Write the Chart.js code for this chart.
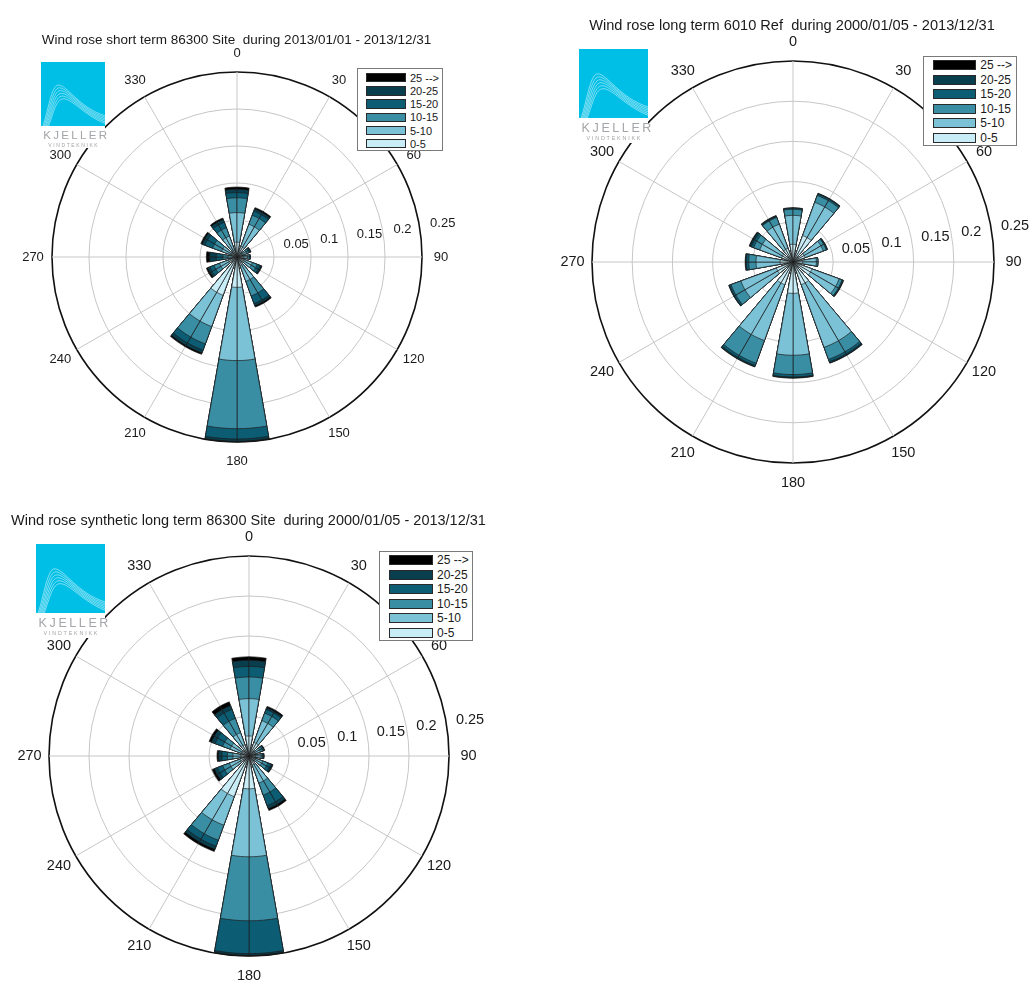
<!DOCTYPE html>
<html>
<head>
<meta charset="utf-8">
<title>Wind roses 86300 Site / 6010 Ref</title>
<script src="https://cdn.jsdelivr.net/npm/chart.js@4.4.1/dist/chart.umd.min.js"></script>
<style>
  html, body { margin: 0; padding: 0; background: #fff; }
  #page { position: relative; width: 1033px; height: 990px; overflow: hidden;
          font-family: "Liberation Sans", Arial, sans-serif; color: #1a1a1a; }
  #page canvas { position: absolute; }
  .rose-title { position: absolute; white-space: pre; transform: translate(-50%, -50%); line-height: 1; }
  .logo { position: absolute; background: #fff; }
  .logo svg { display: block; }
  .logo .brand { text-align: center; color: #a2a5a9; line-height: 1; white-space: nowrap; }
  .legend { position: absolute; background: #fff; border: 1px solid #7a7a7a; box-sizing: border-box; }
  .legend .sw { position: absolute; border: 1px solid #2a2a2a; box-sizing: border-box; }
  .legend .tx { position: absolute; line-height: 1; transform: translateY(-50%); white-space: pre; }
</style>
</head>
<body>
<div id="page"></div>
<script>
// Direction sectors (degrees from north) and their labels
const directions = [0, 30, 60, 90, 120, 150, 180, 210, 240, 270, 300, 330];
const directionLabels = ['0', '30', '60', '90', '120', '150', '180', '210', '240', '270', '300', '330'];
// Wind speed classes (m/s)
const speedBins = ['0-5', '5-10', '10-15', '15-20', '20-25', '25 -->'];
// Radial frequency ticks
const radialTicks = [0.05, 0.1, 0.15, 0.2, 0.25];

// Short term 86300 Site, 2013/01/01 - 2013/12/31 : frequency per sector and speed class
const shortTerm_0_5   = [0.020, 0.015, 0.007, 0.008, 0.010, 0.012, 0.041, 0.055, 0.012, 0.006, 0.008, 0.010];
const shortTerm_5_10  = [0.040, 0.032, 0.007, 0.006, 0.012, 0.023, 0.099, 0.045, 0.013, 0.006, 0.014, 0.020];
const shortTerm_10_15 = [0.020, 0.013, 0.003, 0.003, 0.007, 0.021, 0.092, 0.025, 0.008, 0.007, 0.013, 0.012];
const shortTerm_15_20 = [0.007, 0.006, 0.002, 0.001, 0.004, 0.011, 0.014, 0.009, 0.006, 0.009, 0.011, 0.008];
const shortTerm_20_25 = [0.0045, 0.003, 0.001, 0.000, 0.002, 0.003, 0.003, 0.004, 0.003, 0.009, 0.004, 0.004];
const shortTerm_25up  = [0.003, 0.002, 0.000, 0.000, 0.001, 0.002, 0.001, 0.002, 0.002, 0.0044, 0.002, 0.002];

// Long term 6010 Ref, 2000/01/05 - 2013/12/31
const refLong_0_5   = [0.022, 0.035, 0.016, 0.012, 0.025, 0.030, 0.039, 0.030, 0.022, 0.016, 0.015, 0.018];
const refLong_5_10  = [0.036, 0.044, 0.024, 0.017, 0.036, 0.083, 0.077, 0.074, 0.047, 0.030, 0.029, 0.032];
const refLong_10_15 = [0.0075, 0.009, 0.004, 0.002, 0.004, 0.016, 0.024, 0.030, 0.013, 0.009, 0.008, 0.009];
const refLong_15_20 = [0.0013, 0.002, 0.001, 0.000, 0.001, 0.003, 0.003, 0.003, 0.002, 0.003, 0.003, 0.001];
const refLong_20_25 = [0.0004, 0.0005, 0.0005, 0.000, 0.0005, 0.0015, 0.001, 0.0015, 0.001, 0.001, 0.002, 0.001];
const refLong_25up  = [0.0003, 0.0005, 0.0003, 0.000, 0.0005, 0.0005, 0.0005, 0.0005, 0.000, 0.0005, 0.001, 0.0005];

// Synthetic long term 86300 Site, 2000/01/05 - 2013/12/31
const synLong_0_5   = [0.025, 0.018, 0.008, 0.008, 0.008, 0.012, 0.041, 0.054, 0.012, 0.010, 0.010, 0.015];
const synLong_5_10  = [0.0467, 0.029, 0.007, 0.007, 0.010, 0.024, 0.085, 0.038, 0.014, 0.010, 0.015, 0.016];
const synLong_10_15 = [0.0271, 0.010, 0.003, 0.002, 0.007, 0.016, 0.080, 0.020, 0.009, 0.007, 0.010, 0.019];
const synLong_15_20 = [0.0132, 0.005, 0.002, 0.001, 0.004, 0.014, 0.041, 0.008, 0.007, 0.007, 0.010, 0.012];
const synLong_20_25 = [0.0076, 0.002, 0.0005, 0.0005, 0.002, 0.004, 0.002, 0.004, 0.004, 0.004, 0.005, 0.005];
const synLong_25up  = [0.0044, 0.002, 0.0005, 0.0005, 0.001, 0.0025, 0.001, 0.003, 0.003, 0.002, 0.003, 0.005];

// Fill colour for each speed class
const binColors = ['#c9edf7', '#7cc2d7', '#3a8ea4', '#0c5d74', '#083e4e', '#000000'];

// Each 30 degree sector is split into 10 degree slots: two filled halves and one empty gap.
const slotLabels = [];
directions.forEach(d => slotLabels.push(String(d - 10), String(d), String(d + 10)));

function toSlots(values) {
  const out = [];
  values.forEach(v => out.push(v, v, 0));
  return out;
}

// Cumulative (stacked) rings; the first dataset is painted last, i.e. on top.
function buildDatasets(bins) {
  let acc = directions.map(() => 0);
  return bins.map((bin, i) => {
    acc = acc.map((a, k) => a + bin[k]);
    return {
      label: speedBins[i],
      data: toSlots(acc),
      backgroundColor: binColors[i],
      borderColor: '#1c1c1c',
      borderWidth: 0.7
    };
  });
}

// Direction labels around the rim and frequency labels along a fixed bearing
const roseText = {
  id: 'roseText',
  afterDatasetsDraw(chart, args, opts) {
    const s = chart.scales.r;
    const ctx = chart.ctx;
    ctx.save();
    ctx.fillStyle = '#1a1a1a';
    ctx.font = opts.size + 'px "Liberation Sans", Arial, sans-serif';
    ctx.textAlign = 'center';
    ctx.textBaseline = 'middle';
    directionLabels.forEach((lab, k) => {
      const p = s.getPointPosition(3 * k + 1, s.drawingArea + opts.labelGap);
      ctx.fillText(lab, p.x, p.y);
    });
    ctx.textAlign = 'left';
    const a = opts.tickBearing * Math.PI / 180;
    radialTicks.forEach(v => {
      const d = s.getDistanceFromCenterForValue(v) + opts.tickGap;
      ctx.fillText(String(v), s.xCenter + d * Math.sin(a), s.yCenter - d * Math.cos(a) - opts.tickLift);
    });
    ctx.restore();
  }
};

const roses = [
  {
    title: 'Wind rose short term 86300 Site  during 2013/01/01 - 2013/12/31',
    bins: [shortTerm_0_5, shortTerm_5_10, shortTerm_10_15, shortTerm_15_20, shortTerm_20_25, shortTerm_25up],
    box: { left: 0, top: 30, width: 480, height: 450 }, cx: 237, cy: 257, r: 185,
    text: { size: 13, labelGap: 19, tickBearing: 82, tickGap: 10, tickLift: 6 },
    titlePos: { x: 236.5, y: 39.5, size: 13.5 },
    logo: { x: 41, y: 62, size: 64, h: 86, brand: 11.5, ls: 2.3, sub: 5, subLs: 1.6 },
    legend: { x: 357, y: 68, w: 86, h: 83, swX: 8, swW: 40, swH: 9.5, row0: 8.7, pitch: 13.2, txX: 52, font: 11 }
  },
  {
    title: 'Wind rose long term 6010 Ref  during 2000/01/05 - 2013/12/31',
    bins: [refLong_0_5, refLong_5_10, refLong_10_15, refLong_15_20, refLong_20_25, refLong_25up],
    box: { left: 545, top: 30, width: 488, height: 470 }, cx: 793, cy: 262, r: 201,
    text: { size: 14.5, labelGap: 19.5, tickBearing: 82, tickGap: 9, tickLift: 6.5 },
    titlePos: { x: 792, y: 25, size: 14.6 },
    logo: { x: 579, y: 49, size: 69, h: 94, brand: 12.5, ls: 2.6, sub: 5.4, subLs: 1.8 },
    legend: { x: 923, y: 56, w: 94, h: 90, swX: 8.7, swW: 43.5, swH: 10, row0: 8.3, pitch: 14.5, txX: 56.3, font: 12 }
  },
  {
    title: 'Wind rose synthetic long term 86300 Site  during 2000/01/05 - 2013/12/31',
    bins: [synLong_0_5, synLong_5_10, synLong_10_15, synLong_15_20, synLong_20_25, synLong_25up],
    box: { left: 0, top: 525, width: 500, height: 465 }, cx: 249, cy: 756, r: 200,
    text: { size: 14.5, labelGap: 19.5, tickBearing: 82, tickGap: 9, tickLift: 6.5 },
    titlePos: { x: 248.5, y: 520, size: 14.5 },
    logo: { x: 36, y: 544, size: 69, h: 94, brand: 12.5, ls: 2.6, sub: 5.4, subLs: 1.8 },
    legend: { x: 379, y: 551, w: 94, h: 90, swX: 8.7, swW: 44, swH: 10, row0: 8.3, pitch: 14.5, txX: 57, font: 12 }
  }
];

function logoSvg(size) {
  let paths = '';
  for (let j = 0; j < 6; j++) {
    const py = 36 + j * 4.3, px = 27 + j * 1.6, ey = 84 + j * 2.4, sx = 3 + j * 1.8;
    paths += `<path d="M${sx} 100 C${sx + 8} 78 ${px - 11} ${py} ${px} ${py} C${px + 14} ${py} ${px + 32} ${ey - 13} 100 ${ey}"/>`;
  }
  return `<svg width="${size}" height="${size}" viewBox="0 0 100 100">` +
    `<rect width="100" height="100" fill="#00bfe6"/>` +
    `<g fill="none" stroke="#ffffff" stroke-width="0.9" opacity="0.8">${paths}</g></svg>`;
}

const page = document.getElementById('page');

roses.forEach(rose => {
  const b = rose.box;
  const canvas = document.createElement('canvas');
  canvas.width = b.width;
  canvas.height = b.height;
  canvas.style.left = b.left + 'px';
  canvas.style.top = b.top + 'px';
  page.appendChild(canvas);

  const padding = {
    left: rose.cx - rose.r - b.left,
    top: rose.cy - rose.r - b.top,
    right: b.left + b.width - (rose.cx + rose.r),
    bottom: b.top + b.height - (rose.cy + rose.r)
  };

  new Chart(canvas, {
    type: 'polarArea',
    data: { labels: slotLabels, datasets: buildDatasets(rose.bins) },
    options: {
      responsive: false,
      animation: false,
      events: [],
      layout: { padding },
      plugins: { legend: { display: false }, tooltip: { enabled: false }, roseText: rose.text },
      scales: {
        r: {
          min: 0,
          max: 0.25,
          startAngle: -10,
          ticks: { display: false, stepSize: 0.05 },
          grid: {
            circular: true,
            color: c => (c.tick && c.tick.value > 0.2499) ? '#111111' : '#c6c6c6',
            lineWidth: c => (c.tick && c.tick.value > 0.2499) ? 1.6 : 1
          },
          angleLines: {
            display: true,
            color: c => (c.index % 3 === 1) ? '#c6c6c6' : 'rgba(0,0,0,0)',
            lineWidth: c => (c.index % 3 === 1) ? 1 : 0
          },
          pointLabels: { display: false }
        }
      }
    },
    plugins: [roseText]
  });

  // Title
  const t = document.createElement('div');
  t.className = 'rose-title';
  t.textContent = rose.title;
  t.style.left = rose.titlePos.x + 'px';
  t.style.top = rose.titlePos.y + 'px';
  t.style.fontSize = rose.titlePos.size + 'px';
  page.appendChild(t);

  // Company logo
  const L = rose.logo;
  const logo = document.createElement('div');
  logo.className = 'logo';
  logo.style.left = L.x + 'px';
  logo.style.top = L.y + 'px';
  logo.style.width = L.size + 'px';
  logo.style.height = L.h + 'px';
  logo.innerHTML = logoSvg(L.size) +
    `<div class="brand" style="font-size:${L.brand}px;letter-spacing:${L.ls}px;padding-left:${L.ls}px;margin-top:4px">KJELLER</div>` +
    `<div class="brand" style="font-size:${L.sub}px;letter-spacing:${L.subLs}px;padding-left:${L.subLs}px;margin-top:1px">VINDTEKNIKK</div>`;
  page.appendChild(logo);

  // Speed class legend, strongest class on top
  const G = rose.legend;
  const lg = document.createElement('div');
  lg.className = 'legend';
  lg.style.left = G.x + 'px';
  lg.style.top = G.y + 'px';
  lg.style.width = G.w + 'px';
  lg.style.height = G.h + 'px';
  lg.style.fontSize = G.font + 'px';
  const order = speedBins.map((_, i) => i).reverse();
  order.forEach((bi, row) => {
    const yc = G.row0 + row * G.pitch;
    const sw = document.createElement('div');
    sw.className = 'sw';
    sw.style.left = G.swX + 'px';
    sw.style.top = (yc - G.swH / 2) + 'px';
    sw.style.width = G.swW + 'px';
    sw.style.height = G.swH + 'px';
    sw.style.background = binColors[bi];
    lg.appendChild(sw);
    const tx = document.createElement('div');
    tx.className = 'tx';
    tx.style.left = G.txX + 'px';
    tx.style.top = yc + 'px';
    tx.textContent = speedBins[bi];
    lg.appendChild(tx);
  });
  page.appendChild(lg);
});
</script>
</body>
</html>
